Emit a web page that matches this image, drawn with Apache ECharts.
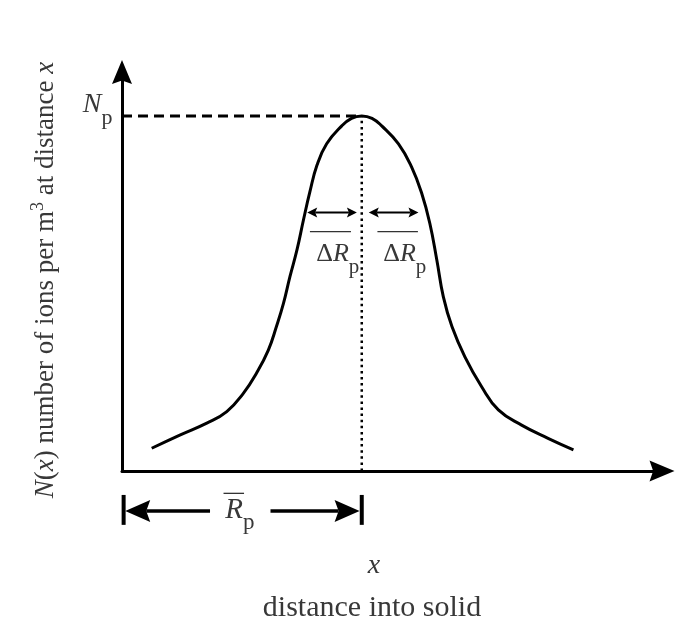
<!DOCTYPE html>
<html><head><meta charset="utf-8">
<script src="https://cdn.jsdelivr.net/npm/echarts@6/dist/echarts.min.js"></script>
<style>html,body{margin:0;padding:0;background:#fff}#c{width:677px;height:634px}</style>
</head><body><div id="c"></div>
<script>
// ---- data (value units: x 0..100, y 0..100) ----
const curveX = [5.5, 10.7, 15.7, 19.4, 22.5, 24.9, 27.1, 28.6, 29.9, 31.1, 32.4, 33.6, 34.8, 36.1, 37.9, 40.7, 42.5, 44.4, 46.3, 48.1, 51.2, 53.6, 55.5, 57.0, 58.3, 59.5, 61.1, 63.5, 66.6, 69.7, 74.0, 78.9, 83.6];
const curveY = [5.7, 9.0, 12.0, 14.9, 19.5, 24.5, 30.3, 36.2, 42.0, 48.7, 55.4, 62.9, 70.0, 76.6, 82.0, 86.5, 88.4, 89.0, 88.4, 86.5, 82.0, 76.3, 69.6, 62.1, 52.9, 43.7, 36.2, 28.6, 21.1, 15.3, 11.5, 8.2, 5.3];
const peakX = 44.4;          // mean projected range R_p
const Np = 89.0;             // peak concentration N_p
const npGuide = [[0, Np, peakX, Np]];
const peakGuide = [[peakX, 0, peakX, Np]];
const deltaArrows = [[34.3, 64.8, 43.5, 64.8], [45.7, 64.8, 54.9, 64.8]];
const overlines = [[34.8, 60.0, 42.4, 60.0], [47.3, 60.0, 54.8, 60.0], [18.8, -5.6, 22.6, -5.6]];
const rangeArrows = [[16.3, -10.0, 0.6, -10.0], [27.5, -10.0, 44.0, -10.0]];
const rangeBars = [[0.3, -6.0, 0.3, -13.5], [peakX, -6.0, peakX, -13.5]];
// label anchors: [x, y]
const npMain = [-3.8, 91.7], npSub = [-3.8, 88.4];
const dMainL = [42.0, 54.3], dSubL = [42.0, 51.0];
const dMainR = [54.4, 54.3], dSubR = [54.4, 51.0];
const rMain = [22.4, -9.9], rSub = [22.4, -13.0];
const deltaText = '{d|Δ}{r|R}';
const yTitle = '{i|N}(' + '{i|x}) number of ions per m{sup|3} at distance {i|x}';
const xSymbol = 'x';
const xTitle = 'distance into solid';

// ---- chart ----
const FONT = 'Liberation Serif';
const TXT = '#383838';
const chart = echarts.init(document.getElementById('c'));
const arrowPath = 'path://M10,0 L20,24 L10,20.5 L0,24 Z';

function segSeries(segs, style, head) {
  return {
    type: 'custom', coordinateSystem: 'cartesian2d', silent: true, clip: false,
    data: segs, encode: {x: [0, 2], y: [1, 3]},
    renderItem: function (params, api) {
      const p1 = api.coord([api.value(0), api.value(1)]);
      const p2 = api.coord([api.value(2), api.value(3)]);
      const dx = p2[0] - p1[0], dy = p2[1] - p1[1];
      const len = Math.sqrt(dx * dx + dy * dy) || 1;
      const ux = dx / len, uy = dy / len, nx = -uy, ny = ux;
      const children = [];
      let a = p1.slice(), b = p2.slice();
      function headAt(tip, dirx, diry) {
        const L = head.len, W = head.width / 2, k = head.len - head.notch;
        children.push({type: 'polygon', shape: {points: [
          [tip[0], tip[1]],
          [tip[0] - dirx * L + nx * W, tip[1] - diry * L + ny * W],
          [tip[0] - dirx * k, tip[1] - diry * k],
          [tip[0] - dirx * L - nx * W, tip[1] - diry * L - ny * W]
        ]}, style: {fill: style.stroke}});
        return [tip[0] - dirx * k, tip[1] - diry * k];
      }
      if (head && head.start) a = headAt(p1, -ux, -uy);
      if (head && head.end) b = headAt(p2, ux, uy);
      children.unshift({type: 'line', shape: {x1: a[0], y1: a[1], x2: b[0], y2: b[1]},
        style: {stroke: style.stroke, lineWidth: style.lineWidth, lineDash: style.lineDash || null, lineCap: 'butt'}});
      return {type: 'group', children: children};
    }
  };
}

function textSeries(pos, text, st) {
  return {
    type: 'custom', coordinateSystem: 'cartesian2d', silent: true, clip: false,
    data: [pos],
    renderItem: function (params, api) {
      const p = api.coord([api.value(0), api.value(1)]);
      return {type: 'text', x: p[0], y: p[1], style: {
        text: text, fontFamily: FONT, fontSize: st.size, fontStyle: st.italic ? 'italic' : 'normal',
        fill: TXT, align: st.align, verticalAlign: 'middle',
        rich: {
          d: {fontFamily: FONT, fontSize: st.size, fill: TXT},
          r: {fontFamily: FONT, fontSize: st.size, fontStyle: 'italic', fill: TXT}
        }}};
    }
  };
}

const option = {
  backgroundColor: '#ffffff',
  animation: false,
  grid: {left: 122, right: 15, top: 72, bottom: 163},
  xAxis: {type: 'value', min: 0, max: 100,
    axisLine: {show: true, onZero: false, symbol: ['none', arrowPath], symbolSize: [21, 25], lineStyle: {color: '#000', width: 3}},
    axisTick: {show: false}, axisLabel: {show: false}, splitLine: {show: false}},
  yAxis: {type: 'value', min: 0, max: 100,
    axisLine: {show: true, onZero: false, symbol: ['none', arrowPath], symbolSize: [21, 24], lineStyle: {color: '#000', width: 3}},
    axisTick: {show: false}, axisLabel: {show: false}, splitLine: {show: false}},
  series: [
    {type: 'line', data: curveX.map((x, i) => [x, curveY[i]]), smooth: 0.45, showSymbol: false,
      lineStyle: {color: '#000', width: 3}, silent: true, z: 3},
    segSeries(npGuide, {stroke: '#000', lineWidth: 3, lineDash: [10, 6]}),
    segSeries(peakGuide, {stroke: '#000', lineWidth: 2.5, lineDash: [2.5, 3.6]}),
    segSeries(deltaArrows, {stroke: '#000', lineWidth: 2}, {start: true, end: true, len: 10, width: 10, notch: 2}),
    segSeries(overlines, {stroke: '#333', lineWidth: 1.3}),
    segSeries(rangeArrows, {stroke: '#000', lineWidth: 3.5}, {end: true, len: 25, width: 22, notch: 4}),
    segSeries(rangeBars, {stroke: '#000', lineWidth: 4}),
    textSeries(npMain, 'N', {size: 28, italic: true, align: 'right'}),
    textSeries(npSub, 'p', {size: 22, align: 'left'}),
    textSeries(dMainL, deltaText, {size: 26, align: 'right'}),
    textSeries(dSubL, 'p', {size: 21, align: 'left'}),
    textSeries(dMainR, deltaText, {size: 26, align: 'right'}),
    textSeries(dSubR, 'p', {size: 21, align: 'left'}),
    textSeries(rMain, 'R', {size: 29, italic: true, align: 'right'}),
    textSeries(rSub, 'p', {size: 23, align: 'left'})
  ],
  graphic: [
    {type: 'text', x: 46, y: 280, rotation: Math.PI / 2, silent: true,
      style: {text: yTitle, align: 'center', verticalAlign: 'middle', fill: TXT,
        fontFamily: FONT, fontSize: 27,
        rich: {
          i: {fontFamily: FONT, fontSize: 27, fontStyle: 'italic', lineHeight: 33, verticalAlign: 'middle'},
          sup: {fontFamily: FONT, fontSize: 18, lineHeight: 33, padding: [0, 0, 16, 0], verticalAlign: 'middle'}
        }}},
    {type: 'text', x: 374, y: 566, silent: true,
      style: {text: xSymbol, align: 'center', verticalAlign: 'middle', fill: TXT, fontFamily: FONT, fontSize: 28, fontStyle: 'italic'}},
    {type: 'text', x: 372, y: 608, silent: true,
      style: {text: xTitle, align: 'center', verticalAlign: 'middle', fill: TXT, fontFamily: FONT, fontSize: 30}}
  ]
};
chart.setOption(option);
</script>
</body></html>
